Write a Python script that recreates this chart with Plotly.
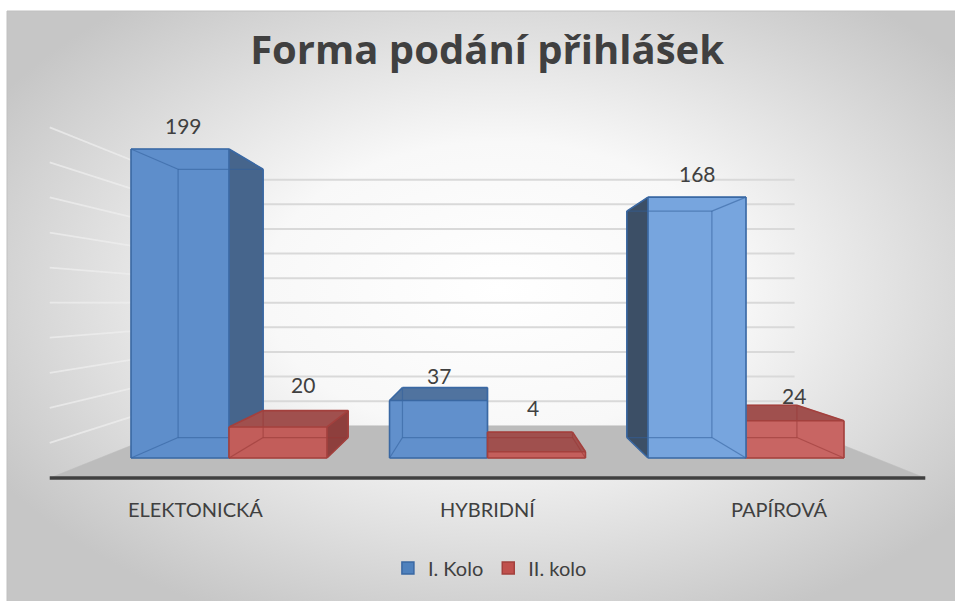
import base64
import plotly.graph_objects as go

# ---------------- data ----------------
categories = ["ELEKTONICKÁ", "HYBRIDNÍ", "PAPÍROVÁ"]
series_names = ["I. Kolo", "II. kolo"]
kolo1 = [199, 37, 168]
kolo2 = [20, 4, 24]
grid_values = [20, 40, 60, 80, 100, 120, 140, 160, 180, 200]

# ---------------- scene / style ----------------
BAR_W = 0.379                 # bar width in category units
VP_U, VP_V = 1.0, 99.8        # vanishing point (category units, value units)
S_BAR_FRONT, S_BAR_BACK = 1.0, 0.868
S_FLOOR_FRONT, S_FLOOR_BACK = 1.129, 0.792
X_RANGE = [-0.8859, 2.8085]
Y_RANGE = [-92.08, 294.91]
FONT = "Lato"
TXT = "#404040"

front_cols = [["#5e8ecb", "#6190cc", "#77a5de"],
              ["#c25d5a", "#c45f5c", "#c86563"]]
top_cols = ["#50739f", "#a0504e"]
side_cols = [["#46658c", "#46658c", "#3c4f66"],
             ["#8e3f3d", "#8e3f3d", "#8e3f3d"]]
edge_cols = ["#3a68a3", "#a3403d"]
hidden_cols = ["rgba(50,95,155,0.55)", "rgba(150,55,52,0.55)"]
legend_cols = ["#4f81bd", "#c0504d"]
legend_edge = ["#3a68a3", "#a3403d"]
label_shift = [[(3, 23), (0, 25), (0, 24)],
               [(25, 42), (-3, 44), (-1, 25)]]


def proj(u, v, s):
    return VP_U + (u - VP_U) * s, VP_V + (v - VP_V) * s


fig = go.Figure()


def poly(pts, fill, line_col, width, close=True):
    xs = [p[0] for p in pts]
    ys = [p[1] for p in pts]
    if close:
        xs.append(xs[0])
        ys.append(ys[0])
    fig.add_trace(go.Scatter(
        x=xs, y=ys, mode="lines",
        fill="toself" if fill else None,
        fillcolor=fill if fill else None,
        line=dict(color=line_col, width=width),
        hoverinfo="skip", showlegend=False))


# floor
u_lo, u_hi = -0.5, len(categories) - 0.5
poly([proj(u_lo, 0, S_FLOOR_FRONT), proj(u_hi, 0, S_FLOOR_FRONT),
      proj(u_hi, 0, S_FLOOR_BACK), proj(u_lo, 0, S_FLOOR_BACK)],
     "#bcbcbc", "#bcbcbc", 0.5)

# back wall gridlines
for g in grid_values:
    poly([proj(u_lo, g, S_FLOOR_BACK), proj(u_hi, g, S_FLOOR_BACK)],
         None, "#d9d9d9", 2, close=False)
# left wall gridlines
for g in grid_values:
    poly([proj(u_lo, g, S_FLOOR_BACK), proj(u_lo, g, S_FLOOR_FRONT)],
         None, "rgba(238,238,238,0.75)", 1.8, close=False)

# axis line
poly([proj(u_lo, 0, S_FLOOR_FRONT), proj(u_hi, 0, S_FLOOR_FRONT)],
     None, "#404040", 3.5, close=False)

# bars
series = [kolo1, kolo2]
bars = []
for si, vals in enumerate(series):
    for ci, v in enumerate(vals):
        u0 = ci - BAR_W if si == 0 else ci
        u1 = u0 + BAR_W
        bars.append((si, ci, u0, u1, v))
bars.sort(key=lambda b: -abs((b[2] + b[3]) / 2 - VP_U))

for si, ci, u0, u1, v in bars:
    F = {(a, b): proj(a, b, S_BAR_FRONT) for a in (u0, u1) for b in (0, v)}
    B = {(a, b): proj(a, b, S_BAR_BACK) for a in (u0, u1) for b in (0, v)}
    faces = {
        "front": [F[(u0, 0)], F[(u1, 0)], F[(u1, v)], F[(u0, v)]],
        "back": [B[(u0, 0)], B[(u1, 0)], B[(u1, v)], B[(u0, v)]],
        "top": [F[(u0, v)], F[(u1, v)], B[(u1, v)], B[(u0, v)]],
        "bottom": [F[(u0, 0)], F[(u1, 0)], B[(u1, 0)], B[(u0, 0)]],
        "left": [F[(u0, 0)], F[(u0, v)], B[(u0, v)], B[(u0, 0)]],
        "right": [F[(u1, 0)], F[(u1, v)], B[(u1, v)], B[(u1, 0)]],
    }
    visible = ["front"]
    if v < VP_V:
        visible.append("top")
    if u0 > VP_U + 1e-9:
        visible.append("left")
    if u1 < VP_U - 1e-9:
        visible.append("right")
    colors = {"front": front_cols[si][ci], "top": top_cols[si],
              "left": side_cols[si][ci], "right": side_cols[si][ci]}
    for f in ["left", "right", "top", "front"]:
        if f in visible:
            poly(faces[f], colors[f], colors[f], 0.5)
    vis_edges, all_edges = set(), set()
    for f, pts in faces.items():
        for k in range(4):
            e = tuple(sorted([pts[k], pts[(k + 1) % 4]]))
            all_edges.add(e)
            if f in visible:
                vis_edges.add(e)
    for e in all_edges - vis_edges:
        poly(list(e), None, hidden_cols[si], 1.2, close=False)
    for e in vis_edges:
        poly(list(e), None, edge_cols[si], 1.6, close=False)

# legend entries (real bar traces kept outside visible range)
for si, name in enumerate(series_names):
    fig.add_trace(go.Bar(x=[10], y=[1], name=name,
                         marker=dict(color=legend_cols[si],
                                     line=dict(color=legend_edge[si], width=1.5)),
                         hoverinfo="skip"))

annotations = []
for si, vals in enumerate(series):
    for ci, v in enumerate(vals):
        u0 = ci - BAR_W if si == 0 else ci
        cx, cy = proj(u0 + BAR_W / 2, v, S_BAR_FRONT)
        dx, dy = label_shift[si][ci]
        annotations.append(dict(x=cx, y=cy, xref="x", yref="y", text=str(v),
                                showarrow=False, xshift=dx, yshift=dy,
                                font=dict(family=FONT, size=21, color=TXT),
                                xanchor="center", yanchor="middle"))
for ci, c in enumerate(categories):
    cx, cy = proj(ci, 0, S_FLOOR_FRONT)
    annotations.append(dict(x=cx, y=cy, xref="x", yref="y", text=c,
                            showarrow=False, yshift=-31,
                            font=dict(family=FONT, size=20, color=TXT),
                            xanchor="center", yanchor="middle"))

svg = ('<svg xmlns="http://www.w3.org/2000/svg" width="948" height="590" '
       'viewBox="0 0 948 590" preserveAspectRatio="none">'
       '<defs><radialGradient id="g" cx="0.52" cy="0.47" r="0.62">'
       '<stop offset="0" stop-color="#ffffff"/>'
       '<stop offset="0.4" stop-color="#f8f8f8"/>'
       '<stop offset="1" stop-color="#c6c6c6"/>'
       '</radialGradient></defs>'
       '<rect x="0" y="0" width="948" height="590" fill="url(#g)"/></svg>')
src = "data:image/svg+xml;base64," + base64.b64encode(svg.encode()).decode()

fig.update_layout(
    width=955, height=601,
    margin=dict(l=0, r=0, t=0, b=0, pad=0),
    paper_bgcolor="white", plot_bgcolor="rgba(0,0,0,0)",
    xaxis=dict(range=X_RANGE, visible=False, fixedrange=True),
    yaxis=dict(range=Y_RANGE, visible=False, fixedrange=True),
    showlegend=True,
    legend=dict(orientation="h", x=0.513, y=0.055, xanchor="center",
                yanchor="middle", font=dict(family=FONT, size=20, color=TXT),
                bgcolor="rgba(0,0,0,0)"),
    title=dict(text="<b>Forma podání přihlášek</b>", x=0.51, xanchor="center",
               y=1 - 50 / 601, yanchor="middle",
               font=dict(family="Open Sans", size=40, color=TXT)),
    annotations=annotations,
    images=[dict(source=src, xref="paper", yref="paper", x=7 / 955, y=1 - 11 / 601,
                 sizex=1 - 7 / 955, sizey=1 - 11 / 601, xanchor="left",
                 yanchor="top", sizing="stretch", layer="below")],
    shapes=[dict(type="rect", xref="paper", yref="paper", x0=7 / 955, x1=1.01,
                 y0=-0.01, y1=1 - 11 / 601, line=dict(color="#c0c0c0", width=1),
                 fillcolor="rgba(0,0,0,0)", layer="below")],
)

fig.write_html("out.html", config={"displayModeBar": False},
               post_script="document.body.style.margin='0';"
                           "document.body.style.padding='0';")
